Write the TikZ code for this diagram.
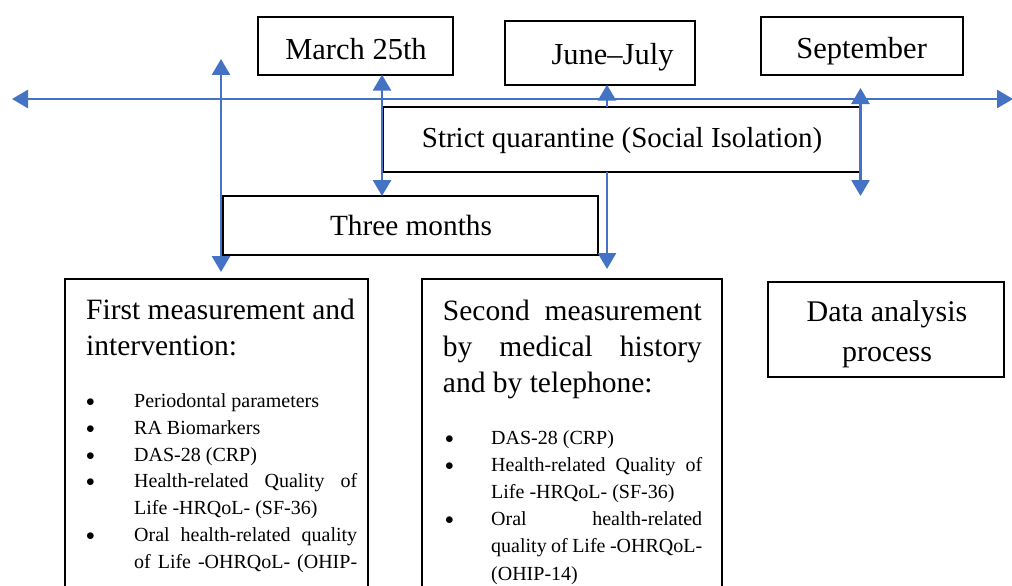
\documentclass[tikz,border=0pt]{standalone}
\usepackage{fontspec}
\setmainfont{Liberation Serif}
\usetikzlibrary{arrows.meta}
\definecolor{lineblue}{HTML}{4472C4}
\newcommand{\JustLine}[2]{\makebox[#1][s]{#2}}
\newcommand{\BulletCell}[1]{\makebox[#1][l]{\raisebox{1pt}{\fontsize{16}{16}\selectfont$\bullet$}}}
\begin{document}
\begin{tikzpicture}[x=1pt,y=-1pt,
  box/.style={draw=black, line width=1.8pt, rectangle, inner sep=0pt, outer sep=0pt},
  lbl/.style={inner sep=0pt, anchor=base, font=\fontsize{30.5}{36}\selectfont},
  txt/.style={inner sep=0pt, anchor=base west},
  arr/.style={draw=lineblue, line width=2.8pt},
  both/.style={arr, arrows={Triangle[width=18pt,length=16pt]-Triangle[width=18pt,length=16pt]}},
  one/.style={arr, arrows={-Triangle[width=18pt,length=16pt]}}
]
\useasboundingbox (0,0) rectangle (1012,586);
\clip (0,0) rectangle (1012,586);
\fill[white] (0,0) rectangle (1012,586);

% boxes
\node[box, minimum width=194.4pt, minimum height=57.7pt] (march) at (355.5,45.85) {};
\node[box, minimum width=190pt, minimum height=63.4pt] (june) at (600,53) {};
\node[box, minimum width=202pt, minimum height=58.3pt] (sept) at (861.7,45.85) {};
\node[box, minimum width=477pt, minimum height=65pt] (quar) at (621.5,139.5) {};
\node[box, minimum width=375pt, minimum height=59pt] (three) at (410.5,225.5) {};
\node[box, minimum width=303pt, minimum height=341pt] (first) at (216.5,449.5) {};
\node[box, minimum width=300pt, minimum height=341pt] (second) at (572,449.5) {};
\node[box, minimum width=236pt, minimum height=95pt] (data) at (886,329.2) {};

% labels
\node[lbl] (marcht) at (356,59.5) {March 25th};
\node[lbl] (junet) at (612.5,65) {June–July};
\node[lbl] (septt) at (861.7,58.5) {September};
\node[lbl, font=\fontsize{29}{36}\selectfont] (quart) at (622,147.3) {Strict quarantine (Social Isolation)};
\node[lbl, font=\fontsize{29.3}{36}\selectfont] (threet) at (411,235) {Three months};

\node[txt] (firsth) at (86,319) {\parbox[t]{280pt}{\fontsize{29.5}{36.5}\selectfont
First measurement and\\
intervention:}};
\node[txt] (firstl) at (86,407.5) {\parbox[t]{272pt}{\fontsize{20}{26.8}\selectfont
\BulletCell{48pt}Periodontal parameters\\
\BulletCell{48pt}RA Biomarkers\\
\BulletCell{48pt}DAS-28 (CRP)\\
\BulletCell{48pt}\JustLine{223pt}{Health-related Quality of}\\
\hspace*{48pt}Life -HRQoL- (SF-36)\\
\BulletCell{48pt}\JustLine{223pt}{Oral health-related quality}\\
\hspace*{48pt}\JustLine{223pt}{of Life -OHRQoL- (OHIP-}}};

\node[txt] (secondh) at (442.7,320) {\parbox[t]{259pt}{\fontsize{29.5}{36}\selectfont
\JustLine{259pt}{Second measurement}\\
\JustLine{259pt}{by medical history}\\
and by telephone:}};
\node[txt] (secondl) at (445,444) {\parbox[t]{260pt}{\fontsize{20}{27.2}\selectfont
\BulletCell{46pt}DAS-28 (CRP)\\
\BulletCell{46pt}\JustLine{211pt}{Health-related Quality of}\\
\hspace*{46pt}Life -HRQoL- (SF-36)\\
\BulletCell{46pt}\JustLine{211pt}{Oral health-related}\\
\hspace*{46pt}\JustLine{211pt}{quality of Life -OHRQoL-}\\
\hspace*{46pt}(OHIP-14)}};

\node[inner sep=0pt, anchor=base] (datat) at (887,321) {\parbox[t]{230pt}{\centering\fontsize{30}{40}\selectfont
Data analysis\\
process}};

% connector end points
\coordinate (hl) at (12,99);
\coordinate (hr) at (1013,99);
\coordinate (a1t) at (221,59);
\coordinate (a1b) at (221,272);
\coordinate (a4b) at (607,269);
\coordinate (a5t) at (860.5,88);
\coordinate (a5b) at (860.5,196);

% connectors
\draw[both] (hl) -- (hr);
\draw[both] (a1t) -- (a1b);
\draw[both] (march.south -| 382,0) -- (three.north -| 382,0);
\draw[one] (quar.north -| 607,0) -- (june.south -| 607,0);
\draw[one] (quar.south -| 607,0) -- (a4b);
\draw[both] (a5t) -- (a5b);
\end{tikzpicture}
\end{document}
